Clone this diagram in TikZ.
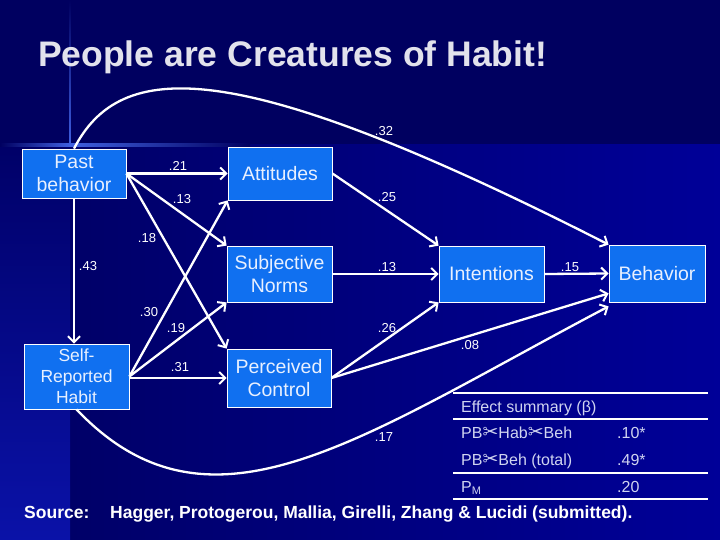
\documentclass[tikz,border=0pt]{standalone}
\usepackage{fontspec}
\setmainfont{Liberation Sans}
\newfontfamily\dingfont{DejaVu Sans}
\usepackage{graphicx}
\usetikzlibrary{backgrounds}
\usetikzlibrary{calc}
\usetikzlibrary{arrows.meta}
\definecolor{slidetop}{HTML}{000060}
\definecolor{slidedark}{HTML}{000068}
\definecolor{slidebright}{HTML}{000098}
\definecolor{slidestrip}{HTML}{0A12A8}
\definecolor{slideglow}{HTML}{4060E0}
\definecolor{boxblue}{HTML}{1070F0}
\definecolor{boxtext}{HTML}{E8F0FF}
\definecolor{tabletext}{HTML}{D0D4F0}
\definecolor{titlegrey}{HTML}{E2E2EC}
\newcommand{\scis}{{\dingfont\fontsize{19}{16}\selectfont ✂}}
\newcommand{\pgsw}{720}
\newcommand{\pgsh}{540}
\newcommand{\bandy}{145}
\newcommand{\stripx}{70}
\newcommand{\tabl}{453}
\newcommand{\tabr}{708}
\newcommand{\tabtx}{461}
\newcommand{\tabvx}{617}

\begin{document}
\begin{tikzpicture}[x=1pt,y=-1pt,
  varbox/.style={draw=white,line width=0.8pt,fill=boxblue,text=boxtext,
    align=center,inner sep=0pt,font=\fontsize{19.5}{23}\selectfont},
  pathline/.style={draw=white,line width=2.3pt,
    -{Straight Barb[length=6pt,width=12pt,line width=2pt]}},
  coef/.style={text=white,inner sep=0pt,font=\fontsize{13}{13}\selectfont},
  tabtext/.style={text=tabletext,anchor=base west,inner sep=0pt,
    font=\fontsize{16}{16}\selectfont},
  rule/.style={draw=white,line width=#1}]

    \useasboundingbox (0,0) rectangle (\pgsw,\pgsh);

    \node (title) [anchor=base west,inner sep=0pt,text=titlegrey,
      font=\fontsize{35.5}{35.5}\selectfont\bfseries] at (38,67)
      {People are Creatures of Habit!};

    \node (past) [varbox,minimum width=104pt,minimum height=49pt]
      at (74,173.5) {Past\\behavior};
    \node (att) [varbox,minimum width=104pt,minimum height=53pt]
      at (280,173.5) {Attitudes};
    \node (norms) [varbox,minimum width=105pt,minimum height=56pt]
      at (279.5,274) {Subjective\\Norms};
    \node (ctrl) [varbox,minimum width=104pt,minimum height=58pt]
      at (279,378) {Perceived\\Control};
    \node (habit) [varbox,minimum width=105pt,minimum height=65pt,
      font=\fontsize{17.5}{21}\selectfont] at (76.5,376.5) {Self-\\Reported\\Habit};
    \node (intent) [varbox,minimum width=105pt,minimum height=56pt]
      at (491.5,274) {Intentions};
    \node (behav) [varbox,minimum width=96pt,minimum height=57pt]
      at (657,273.5) {Behavior};

    \draw[pathline] (past.east) -- (att.west);
    \draw[pathline] (past.east) -- (norms.north west);
    \draw[pathline] (past.east) -- (ctrl.north west);
    \draw[pathline] (past.south) -- (past.south |- habit.north);
    \draw[pathline] (habit.east) -- (att.south west);
    \draw[pathline] (habit.east) -- (norms.south west);
    \draw[pathline] (habit.east |- ctrl.west) -- (ctrl.west);
    \draw[pathline] (att.east) -- (intent.north west);
    \draw[pathline] (norms.east) -- (intent.west);
    \draw[pathline] (ctrl.east) -- (intent.south west);
    \draw[pathline] (ctrl.east) -- ($(behav.south west)+(0,-9)$);
    \draw[pathline] (intent.east) -- (behav.west);
    \draw[pathline] (past.north) .. controls (120,60) and (230,52) .. (behav.north west);
    \draw[pathline] (habit.south) .. controls (210,550) and (359,438)
      .. ($(behav.south west)+(0,4)$);

    \node[coef] (k21) at (178,166) {.21};
    \node[coef] (k13a) at (182,199) {.13};
    \node[coef] (k18) at (147,238) {.18};
    \node[coef] (k43) at (88,266) {.43};
    \node[coef] (k30) at (149,312) {.30};
    \node[coef] (k19) at (176,328) {.19};
    \node[coef] (k31) at (180,367) {.31};
    \node[coef] (k32) at (384,131) {.32};
    \node[coef] (k25) at (387,197) {.25};
    \node[coef] (k13b) at (387,267) {.13};
    \node[coef] (k15) at (570,267) {.15};
    \node[coef] (k26) at (387,328) {.26};
    \node[coef] (k08) at (470,345) {.08};
    \node[coef] (k17) at (384,437) {.17};

    \draw[rule=2pt] (\tabl,393) -- (\tabr,393);
    \draw[rule=1.2pt] (\tabl,419) -- (\tabr,419);
    \draw[rule=2pt] (\tabl,473) -- (\tabr,473);
    \draw[rule=2pt] (\tabl,499) -- (\tabr,499);
    \node[tabtext] (tabhead) at (\tabtx,412) {Effect summary (β)};
    \node[tabtext] (rowa) at (\tabtx,438) {PB\scis Hab\scis Beh};
    \node[tabtext] (vala) at (\tabvx,438) {.10*};
    \node[tabtext] (rowb) at (\tabtx,465) {PB\scis Beh (total)};
    \node[tabtext] (valb) at (\tabvx,465) {.49*};
    \node[tabtext] (rowc) at (\tabtx,492)
      {P\raisebox{-0.35ex}{\fontsize{11}{11}\selectfont M}};
    \node[tabtext] (valc) at (\tabvx,492) {.20};

    \node (src) [anchor=base west,inner sep=0pt,text=white,
      font=\fontsize{17.5}{17.5}\selectfont\bfseries] at (24,518) {Source:};
    \node (cite) [anchor=base west,inner sep=0pt,text=white,
      font=\fontsize{17.5}{17.5}\selectfont\bfseries] at (110,518)
      {Hagger, Protogerou, Mallia, Girelli, Zhang \& Lucidi (submitted).};

    \begin{scope}[on background layer]
      \fill[slidetop] (0,0) rectangle (\pgsw,\bandy);
      \shade[left color=slidedark,right color=slidebright]
        (\stripx,\bandy) rectangle (\pgsw,\pgsh);
      \shade[top color=slidedark,bottom color=slidestrip]
        (0,\bandy) rectangle (\stripx,\pgsh);
      \shade[left color=slidetop,right color=slideglow]
        (0,143.5) rectangle (\stripx,146.5);
      \shade[left color=slideglow,right color=slidetop]
        (\stripx,143.5) rectangle (250,146.5);
      \shade[top color=slidetop,bottom color=slideglow]
        (69.2,0) rectangle (70.8,\bandy);
    \end{scope}
  \end{tikzpicture}
\end{document}
